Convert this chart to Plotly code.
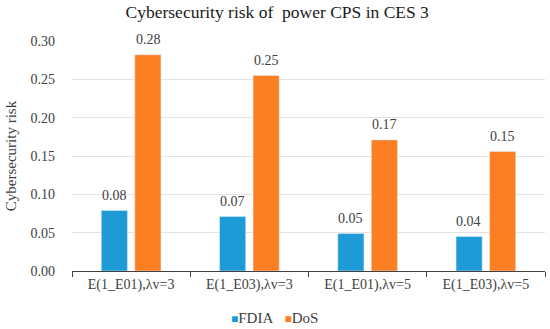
import plotly.graph_objects as go

categories = ["E(1_E01),λv=3", "E(1_E03),λv=3", "E(1_E01),λv=5", "E(1_E03),λv=5"]
fdia = [0.079, 0.071, 0.049, 0.045]
dos = [0.282, 0.255, 0.171, 0.156]
fdia_labels = ["0.08", "0.07", "0.05", "0.04"]
dos_labels = ["0.28", "0.25", "0.17", "0.15"]
series_names = ["FDIA", "DoS"]

FONT = "Liberation Serif, Times New Roman, serif"
TXT = "#404040"
C_FDIA = "#1E9BD7"
C_DOS = "#FD7F23"

fig = go.Figure()
fig.add_trace(go.Bar(name=series_names[0], x=categories, y=fdia, marker_color=C_FDIA,
                     showlegend=False))
fig.add_trace(go.Bar(name=series_names[1], x=categories, y=dos, marker_color=C_DOS,
                     showlegend=False))

annotations = []
for cat, v, t in zip(categories, fdia, fdia_labels):
    annotations.append(dict(x=cat, y=v, text=t, xref="x", yref="y", showarrow=False,
                            xshift=-17, yshift=15, font=dict(size=14, color=TXT, family=FONT)))
for cat, v, t in zip(categories, dos, dos_labels):
    annotations.append(dict(x=cat, y=v, text=t, xref="x", yref="y", showarrow=False,
                            xshift=17, yshift=15, font=dict(size=14, color=TXT, family=FONT)))

# legend (compact, Excel-style)
legend_text = (f'<span style="color:{C_FDIA};font-size:12px">■</span>{series_names[0]}'
               f'&nbsp;&nbsp;&nbsp;'
               f'<span style="color:{C_DOS};font-size:12px">■</span>{series_names[1]}')
annotations.append(dict(x=0.429, y=-0.204, xref="paper", yref="paper", text=legend_text,
                        showarrow=False, xanchor="center", yanchor="middle",
                        font=dict(size=15, color=TXT, family=FONT)))

fig.update_layout(
    width=550, height=329,
    margin=dict(l=72, r=5, t=41, b=58),
    paper_bgcolor="white", plot_bgcolor="white",
    font=dict(family=FONT, color=TXT, size=14),
    title=dict(text="Cybersecurity risk of  power CPS in CES 3", x=0.504, xanchor="center",
               y=0.9635, yanchor="middle", font=dict(size=17.5, color="#1a1a1a", family=FONT)),
    barmode="group", bargap=0.433, bargroupgap=0.22,
    showlegend=False,
    annotations=annotations,
)
fig.update_yaxes(range=[0, 0.30], dtick=0.05, tickformat=".2f", showgrid=True,
                 gridcolor="#E3E3E3", zeroline=False, showline=False, automargin=False,
                 ticklabelstandoff=16,
                 tickfont=dict(size=14, color=TXT, family=FONT),
                 title=dict(text="Cybersecurity risk", font=dict(size=15, color=TXT, family=FONT),
                            standoff=10))
fig.update_xaxes(showline=True, linecolor="#404040", linewidth=1, ticks="outside",
                 tickson="boundaries", ticklen=5, tickcolor="#404040", automargin=False,
                 tickfont=dict(size=14, color=TXT, family=FONT))

fig.write_html("out.html", config={"displayModeBar": False},
               post_script="document.body.style.margin='0px';")
